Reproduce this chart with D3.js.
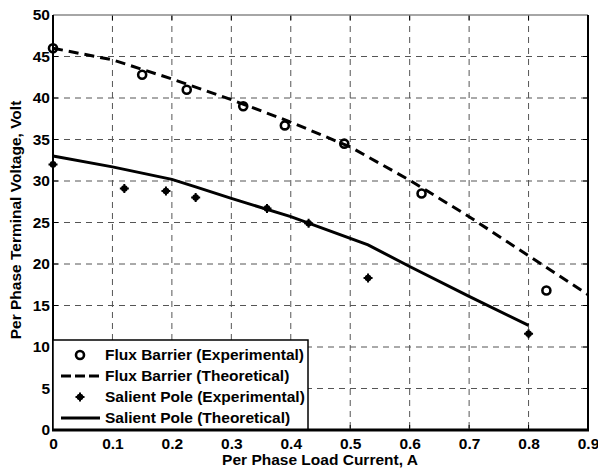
<!DOCTYPE html>
<html>
<head>
<meta charset="utf-8">
<script src="https://cdn.jsdelivr.net/npm/d3@7"></script>
<style>
body { margin: 0; background: #fff; }
text { font-family: "Liberation Sans", Arial, sans-serif; font-weight: bold; }
</style>
</head>
<body>
<svg id="chart" width="598" height="471"></svg>
<script>
// data
var xTicks = [0, 0.1, 0.2, 0.3, 0.4, 0.5, 0.6, 0.7, 0.8, 0.9];
var yTicks = [0, 5, 10, 15, 20, 25, 30, 35, 40, 45, 50];

var fluxExpX = [0, 0.15, 0.225, 0.32, 0.39, 0.49, 0.62, 0.83];
var fluxExpY = [46, 42.8, 41, 39, 36.7, 34.5, 28.5, 16.8];

var fluxTheoX = [0, 0.1, 0.2, 0.3, 0.4, 0.5, 0.6, 0.7, 0.8, 0.9];
var fluxTheoY = [46, 44.6, 42.3, 39.8, 37.1, 34.1, 30.1, 25.7, 21.0, 16.3];

var salExpX = [0, 0.12, 0.19, 0.24, 0.36, 0.43, 0.53, 0.8];
var salExpY = [32, 29.1, 28.8, 28.0, 26.7, 24.9, 18.3, 11.6];

var salTheoX = [0, 0.1, 0.2, 0.24, 0.3, 0.4, 0.53, 0.6, 0.7, 0.8];
var salTheoY = [33, 31.7, 30.2, 29.3, 27.9, 25.7, 22.3, 19.7, 16.1, 12.6];

var legendLabels = ["Flux Barrier (Experimental)", "Flux Barrier (Theoretical)",
	"Salient Pole (Experimental)", "Salient Pole (Theoretical)"];

var svg = d3.select("#chart");
var pLeft = 53, pRight = 588, pTop = 15, pBottom = 430;
var fs = 15.5;

var x = d3.scaleLinear().domain([0, 0.9]).range([pLeft, pRight]);
var y = d3.scaleLinear().domain([0, 50]).range([pBottom, pTop]);

// grid
var grid = svg.append("g");
grid.selectAll(".gx").data(xTicks.slice(1, -1)).enter().append("line")
	.attr("x1", d => x(d)).attr("x2", d => x(d))
	.attr("y1", pTop).attr("y2", pBottom)
	.attr("stroke", "#555").attr("stroke-width", 1)
	.attr("stroke-dasharray", "6,5");
grid.selectAll(".gy").data(yTicks.slice(1, -1)).enter().append("line")
	.attr("x1", pLeft).attr("x2", pRight)
	.attr("y1", d => y(d)).attr("y2", d => y(d))
	.attr("stroke", "#555").attr("stroke-width", 1)
	.attr("stroke-dasharray", "6,5");

// axes
var xAxis = d3.axisBottom(x).tickValues(xTicks).tickSize(0).tickPadding(8)
	.tickFormat(d => d === 0 ? "0" : d3.format(".1f")(d));
var gx = svg.append("g").attr("transform", "translate(0," + pBottom + ")").call(xAxis);
gx.select(".domain").remove();
gx.selectAll("text").attr("font-size", fs).attr("fill", "#000")
	.style("font-family", "'Liberation Sans', Arial, sans-serif").style("font-weight", "bold");

var yAxis = d3.axisLeft(y).tickValues(yTicks).tickSize(0).tickPadding(3);
var gy = svg.append("g").attr("transform", "translate(" + pLeft + ",0)").call(yAxis);
gy.select(".domain").remove();
gy.selectAll("text").attr("font-size", fs).attr("fill", "#000")
	.style("font-family", "'Liberation Sans', Arial, sans-serif").style("font-weight", "bold");

// inner tick marks
var ticks = svg.append("g").attr("stroke", "#000").attr("stroke-width", 1);
xTicks.slice(1, -1).forEach(function (d) {
	ticks.append("line").attr("x1", x(d)).attr("x2", x(d)).attr("y1", pBottom).attr("y2", pBottom - 5);
	ticks.append("line").attr("x1", x(d)).attr("x2", x(d)).attr("y1", pTop).attr("y2", pTop + 5);
});
yTicks.slice(1, -1).forEach(function (d) {
	ticks.append("line").attr("x1", pLeft).attr("x2", pLeft + 5).attr("y1", y(d)).attr("y2", y(d));
	ticks.append("line").attr("x1", pRight).attr("x2", pRight - 5).attr("y1", y(d)).attr("y2", y(d));
});

// curves
var line = d3.line().x(d => x(d[0])).y(d => y(d[1]));
svg.append("path")
	.datum(d3.zip(fluxTheoX, fluxTheoY))
	.attr("d", line).attr("fill", "none")
	.attr("stroke", "#000").attr("stroke-width", 3)
	.attr("stroke-dasharray", "10,6");
svg.append("path")
	.datum(d3.zip(salTheoX, salTheoY))
	.attr("d", line).attr("fill", "none")
	.attr("stroke", "#000").attr("stroke-width", 3);

// markers
function drawCircle(g, cx, cy) {
	g.append("circle").attr("cx", cx).attr("cy", cy).attr("r", 4)
		.attr("fill", "none").attr("stroke", "#000").attr("stroke-width", 2.6);
}
function drawStar(g, cx, cy) {
	g.append("circle").attr("cx", cx).attr("cy", cy).attr("r", 3.3).attr("fill", "#000");
	g.append("path")
		.attr("d", "M" + (cx - 4.5) + "," + cy + "H" + (cx + 4.5) + "M" + cx + "," + (cy - 4.5) + "V" + (cy + 4.5))
		.attr("stroke", "#000").attr("stroke-width", 2);
}
var marks = svg.append("g");
d3.zip(fluxExpX, fluxExpY).forEach(d => drawCircle(marks, x(d[0]), y(d[1])));
d3.zip(salExpX, salExpY).forEach(d => drawStar(marks, x(d[0]), y(d[1])));

// frame
svg.append("line").attr("x1", pLeft).attr("x2", pRight).attr("y1", pTop).attr("y2", pTop)
	.attr("stroke", "#888").attr("stroke-width", 1.5);
svg.append("line").attr("x1", pLeft).attr("x2", pLeft).attr("y1", pTop).attr("y2", pBottom)
	.attr("stroke", "#000").attr("stroke-width", 2);
svg.append("line").attr("x1", pRight).attr("x2", pRight).attr("y1", pTop).attr("y2", pBottom)
	.attr("stroke", "#000").attr("stroke-width", 2);

// legend
var lg = svg.append("g");
lg.append("rect").attr("x", pLeft).attr("y", 340).attr("width", 255).attr("height", pBottom - 340)
	.attr("fill", "#fff").attr("stroke", "#000").attr("stroke-width", 1.5);
var rowY = [355, 376, 397, 418];
drawCircle(lg, 80, rowY[0]);
lg.append("line").attr("x1", 61).attr("x2", 100).attr("y1", rowY[1]).attr("y2", rowY[1])
	.attr("stroke", "#000").attr("stroke-width", 3).attr("stroke-dasharray", "10,4");
drawStar(lg, 80, rowY[2]);
lg.append("line").attr("x1", 61).attr("x2", 100).attr("y1", rowY[3]).attr("y2", rowY[3])
	.attr("stroke", "#000").attr("stroke-width", 3);
lg.selectAll(".lt").data(legendLabels).enter().append("text")
	.attr("x", 105).attr("y", (d, i) => rowY[i]).attr("dy", "0.35em")
	.attr("font-size", fs).text(d => d);

// bottom edge over legend
svg.append("line").attr("x1", pLeft - 1).attr("x2", pRight + 1).attr("y1", pBottom).attr("y2", pBottom)
	.attr("stroke", "#000").attr("stroke-width", 3);

// axis titles
svg.append("text").attr("x", 320).attr("y", 465).attr("text-anchor", "middle")
	.attr("font-size", fs).text("Per Phase Load Current, A");
svg.append("text").attr("transform", "translate(21,220) rotate(-90)")
	.attr("text-anchor", "middle").attr("font-size", fs)
	.text("Per Phase Terminal Voltage, Volt");
</script>
</body>
</html>
